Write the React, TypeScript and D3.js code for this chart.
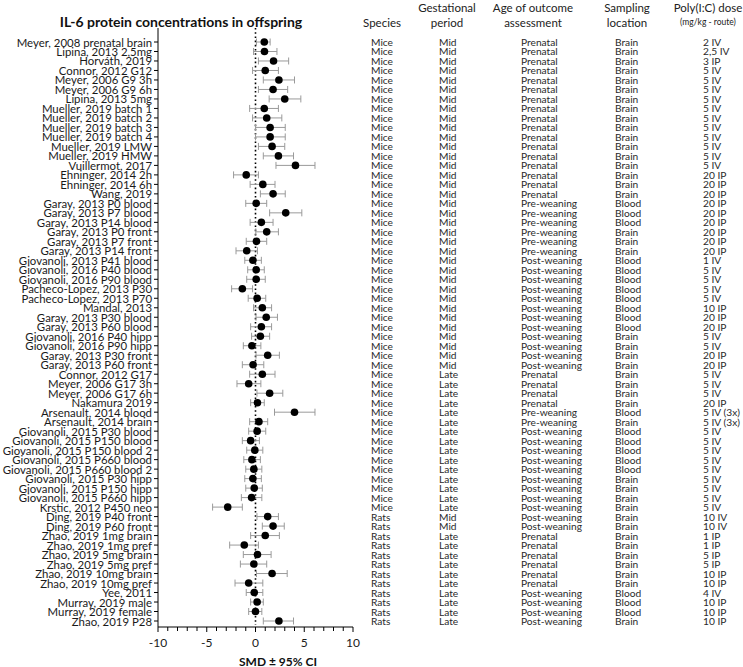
import * as d3 from 'd3';

const studies = [
  'Meyer, 2008 prenatal brain', 'Lipina, 2013 2,5mg', 'Horváth, 2019', 'Connor, 2012 G12',
  'Meyer, 2006 G9 3h', 'Meyer, 2006 G9 6h', 'Lipina, 2013 5mg', 'Mueller, 2019 batch 1',
  'Mueller, 2019 batch 2', 'Mueller, 2019 batch 3', 'Mueller, 2019 batch 4', 'Mueller, 2019 LMW',
  'Mueller, 2019 HMW', 'Vuillermot, 2017', 'Ehninger, 2014 2h', 'Ehninger, 2014 6h',
  'Wang, 2019', 'Garay, 2013 P0 blood', 'Garay, 2013 P7 blood', 'Garay, 2013 P14 blood',
  'Garay, 2013 P0 front', 'Garay, 2013 P7 front', 'Garay, 2013 P14 front', 'Giovanoli, 2013 P41 blood',
  'Giovanoli, 2016 P40 blood', 'Giovanoli, 2016 P90 blood', 'Pacheco-Lopez, 2013 P30', 'Pacheco-Lopez, 2013 P70',
  'Mandal, 2013', 'Garay, 2013 P30 blood', 'Garay, 2013 P60 blood', 'Giovanoli, 2016 P40 hipp',
  'Giovanoli, 2016 P90 hipp', 'Garay, 2013 P30 front', 'Garay, 2013 P60 front', 'Connor, 2012 G17',
  'Meyer, 2006 G17 3h', 'Meyer, 2006 G17 6h', 'Nakamura 2019', 'Arsenault, 2014 blood',
  'Arsenault, 2014 brain', 'Giovanoli, 2015 P30 blood', 'Giovanoli, 2015 P150 blood', 'Giovanoli, 2015 P150 blood 2',
  'Giovanoli, 2015 P660 blood', 'Giovanoli, 2015 P660 blood 2', 'Giovanoli, 2015 P30 hipp', 'Giovanoli, 2015 P150 hipp',
  'Giovanoli, 2015 P660 hipp', 'Krstic, 2012 P450 neo', 'Ding, 2019 P40 front', 'Ding, 2019 P60 front',
  'Zhao, 2019 1mg brain', 'Zhao, 2019 1mg pref', 'Zhao, 2019 5mg brain', 'Zhao, 2019 5mg pref',
  'Zhao, 2019 10mg brain', 'Zhao, 2019 10mg pref', 'Yee, 2011', 'Murray, 2019 male',
  'Murray, 2019 female', 'Zhao, 2019 P28',
];

const smd = [
  0.9, 0.92, 1.85, 1.0, 2.4, 1.8, 3.0, 0.9, 1.15, 1.5, 1.5, 1.7, 2.35, 4.1,
  -0.95, 0.75, 1.8, 0.07, 3.1, 0.6, 1.15, 0.1, -0.9, -0.27, 0.07, 0.07, -1.35, 0.17,
  0.7, 1.1, 0.6, 0.5, -0.37, 1.25, -0.25, 0.7, -0.7, 1.45, 0.2, 4.0, 0.35, 0.17,
  -0.5, -0.07, -0.37, -0.17, -0.27, -0.13, -0.4, -2.85, 1.25, 1.8, 1.0, -1.15, 0.2, -0.17,
  1.7, -0.7, -0.13, 0.17, 0.0, 2.4,
];

const ciLow = [
  0.1, -0.2, 0.3, -0.3, 0.8, 0.3, 1.4, -0.6, -0.3, 0.0, 0.0, 0.3, 0.8, 2.1,
  -2.25, -0.55, 0.5, -1.0, 1.45, -0.55, 0.03, -0.95, -2.0, -1.1, -0.8, -0.9, -2.45, -0.75,
  -0.2, 0.05, -0.5, -0.4, -1.25, 0.05, -1.35, -0.6, -1.9, 0.15, -0.5, 1.95, -0.6, -0.7,
  -1.35, -0.9, -1.2, -1.0, -1.1, -1.0, -1.45, -4.4, 0.15, 0.7, -0.5, -2.65, -1.25, -1.55,
  0.1, -2.1, -0.95, -0.5, -0.7, 0.8,
];

const ciHigh = [
  1.5, 2.2, 3.4, 2.35, 4.0, 3.3, 4.65, 2.35, 2.7, 3.05, 3.05, 3.0, 3.9, 6.1,
  0.3, 2.0, 3.05, 1.15, 4.75, 1.8, 2.35, 1.15, 0.2, 0.6, 0.9, 1.0, -0.3, 1.05,
  1.65, 2.25, 1.65, 1.45, 0.55, 2.45, 0.85, 2.0, 0.55, 2.8, 0.9, 6.1, 1.25, 1.05,
  0.4, 0.75, 0.5, 0.65, 0.6, 0.7, 0.65, -1.35, 2.35, 2.95, 2.45, 0.3, 1.6, 1.15,
  3.25, 0.75, 0.75, 0.8, 0.65, 3.9,
];

const species = [
  'Mice', 'Mice', 'Mice', 'Mice', 'Mice', 'Mice', 'Mice', 'Mice', 'Mice', 'Mice',
  'Mice', 'Mice', 'Mice', 'Mice', 'Mice', 'Mice', 'Mice', 'Mice', 'Mice', 'Mice',
  'Mice', 'Mice', 'Mice', 'Mice', 'Mice', 'Mice', 'Mice', 'Mice', 'Mice', 'Mice',
  'Mice', 'Mice', 'Mice', 'Mice', 'Mice', 'Mice', 'Mice', 'Mice', 'Mice', 'Mice',
  'Mice', 'Mice', 'Mice', 'Mice', 'Mice', 'Mice', 'Mice', 'Mice', 'Mice', 'Mice',
  'Rats', 'Rats', 'Rats', 'Rats', 'Rats', 'Rats', 'Rats', 'Rats', 'Rats', 'Rats',
  'Rats', 'Rats',
];

const period = [
  'Mid', 'Mid', 'Mid', 'Mid', 'Mid', 'Mid', 'Mid', 'Mid', 'Mid', 'Mid',
  'Mid', 'Mid', 'Mid', 'Mid', 'Mid', 'Mid', 'Mid', 'Mid', 'Mid', 'Mid',
  'Mid', 'Mid', 'Mid', 'Mid', 'Mid', 'Mid', 'Mid', 'Mid', 'Mid', 'Mid',
  'Mid', 'Mid', 'Mid', 'Mid', 'Mid', 'Late', 'Late', 'Late', 'Late', 'Late',
  'Late', 'Late', 'Late', 'Late', 'Late', 'Late', 'Late', 'Late', 'Late', 'Late',
  'Mid', 'Mid', 'Late', 'Late', 'Late', 'Late', 'Late', 'Late', 'Late', 'Late',
  'Late', 'Late',
];

const age = [
  'Prenatal', 'Prenatal', 'Prenatal', 'Prenatal', 'Prenatal', 'Prenatal', 'Prenatal', 'Prenatal',
  'Prenatal', 'Prenatal', 'Prenatal', 'Prenatal', 'Prenatal', 'Prenatal', 'Prenatal', 'Prenatal',
  'Prenatal', 'Pre-weaning', 'Pre-weaning', 'Pre-weaning', 'Pre-weaning', 'Pre-weaning', 'Pre-weaning',
  'Post-weaning', 'Post-weaning', 'Post-weaning', 'Post-weaning', 'Post-weaning', 'Post-weaning',
  'Post-weaning', 'Post-weaning', 'Post-weaning', 'Post-weaning', 'Post-weaning', 'Post-weaning',
  'Prenatal', 'Prenatal', 'Prenatal', 'Prenatal', 'Pre-weaning', 'Pre-weaning',
  'Post-weaning', 'Post-weaning', 'Post-weaning', 'Post-weaning', 'Post-weaning', 'Post-weaning',
  'Post-weaning', 'Post-weaning', 'Post-weaning', 'Post-weaning', 'Post-weaning',
  'Prenatal', 'Prenatal', 'Prenatal', 'Prenatal', 'Prenatal', 'Prenatal',
  'Post-weaning', 'Post-weaning', 'Post-weaning', 'Post-weaning',
];

const location = [
  'Brain', 'Brain', 'Brain', 'Brain', 'Brain', 'Brain', 'Brain', 'Brain', 'Brain', 'Brain',
  'Brain', 'Brain', 'Brain', 'Brain', 'Brain', 'Brain', 'Brain', 'Blood', 'Blood', 'Blood',
  'Brain', 'Brain', 'Brain', 'Blood', 'Blood', 'Blood', 'Blood', 'Blood', 'Blood', 'Blood',
  'Blood', 'Brain', 'Brain', 'Brain', 'Brain', 'Brain', 'Brain', 'Brain', 'Brain', 'Blood',
  'Brain', 'Blood', 'Blood', 'Blood', 'Blood', 'Blood', 'Brain', 'Brain', 'Brain', 'Brain',
  'Brain', 'Brain', 'Brain', 'Brain', 'Brain', 'Brain', 'Brain', 'Brain', 'Blood', 'Blood',
  'Blood', 'Brain',
];

const dose = [
  '2 IV', '2,5 IV', '3 IP', '5 IV', '5 IV', '5 IV', '5 IV', '5 IV', '5 IV', '5 IV',
  '5 IV', '5 IV', '5 IV', '5 IV', '20 IP', '20 IP', '20 IP', '20 IP', '20 IP', '20 IP',
  '20 IP', '20 IP', '20 IP', '1 IV', '5 IV', '5 IV', '5 IV', '5 IV', '10 IP', '20 IP',
  '20 IP', '5 IV', '5 IV', '20 IP', '20 IP', '5 IV', '5 IV', '5 IV', '20 IP', '5 IV (3x)',
  '5 IV (3x)', '5 IV', '5 IV', '5 IV', '5 IV', '5 IV', '5 IV', '5 IV', '5 IV', '5 IV',
  '10 IV', '10 IV', '1 IP', '1 IP', '5 IP', '5 IP', '10 IP', '10 IP', '4 IV', '10 IP',
  '10 IP', '10 IP',
];

const xTicks = d3.range(-10, 11, 1);
const xLabels = [-10, -5, 0, 5, 10];

const FONT = 'Lato, "Noto Sans", sans-serif';

export default function App() {
  const W = 743;
  const H = 667;
  const plotLeft = 158;
  const plotRight = 353;
  const plotTop = 28;
  const axisY = 627;

  const x = d3.scaleLinear().domain([-10, 10]).range([plotLeft, plotRight]);
  const y = d3.scalePoint<string>().domain(studies).range([42, 621]);

  // table columns: body left-aligned, headers centered
  const columns = [
    { values: species, x: 371, head: ['', 'Species'], hx: 382 },
    { values: period, x: 439, head: ['Gestational', 'period'], hx: 447 },
    { values: age, x: 521, head: ['Age of outcome', 'assessment'], hx: 533 },
    { values: location, x: 615, head: ['Sampling', 'location'], hx: 627 },
    { values: dose, x: 703, head: ['Poly(I:C) dose', ''], hx: 708 },
  ];

  return (
    <div style={{ position: 'absolute', left: 0, top: 0 }}>
      <svg width={W} height={H} style={{ display: 'block', background: '#fff' }} fontFamily={FONT}>
        {/* title */}
        <text x={181} y={21} textAnchor="middle" dominantBaseline="central" fontSize={14} fontWeight="bold" fill="#111">
          IL-6 protein concentrations in offspring
        </text>

        {/* y axis */}
        <line x1={plotLeft} x2={plotLeft} y1={plotTop} y2={axisY} stroke="#000" strokeWidth={1} />
        {studies.map((s) => (
          <g key={s}>
            <line x1={plotLeft - 4} x2={plotLeft} y1={y(s)} y2={y(s)} stroke="#000" strokeWidth={1} />
            <text x={plotLeft - 6} y={y(s)} textAnchor="end" dominantBaseline="central" fontSize={11.4} fill="#1a1a1a">
              {s}
            </text>
          </g>
        ))}

        {/* zero reference */}
        <line x1={x(0)} x2={x(0)} y1={plotTop} y2={axisY - 2} stroke="#000" strokeWidth={1.6} strokeDasharray="1.6,2.6" />

        {/* x axis */}
        <line x1={plotLeft} x2={plotRight} y1={axisY} y2={axisY} stroke="#000" strokeWidth={1} />
        {xTicks.map((t) => (
          <line key={t} x1={x(t)} x2={x(t)} y1={axisY} y2={axisY + (t % 5 === 0 ? 5 : 4)} stroke="#000" strokeWidth={1} />
        ))}
        {xLabels.map((t) => (
          <text key={t} x={x(t)} y={642} textAnchor="middle" dominantBaseline="central" fontSize={12} fill="#1a1a1a">
            {t}
          </text>
        ))}
        <text x={278} y={661} textAnchor="middle" dominantBaseline="central" fontSize={12} fontWeight="bold" fill="#111">
          SMD ± 95% CI
        </text>

        {/* CI bars and points */}
        {studies.map((s, i) => (
          <g key={`ci-${s}`}>
            <line x1={x(ciLow[i])} x2={x(ciHigh[i])} y1={y(s)} y2={y(s)} stroke="#9a9a9a" strokeWidth={1} />
            <line x1={x(ciLow[i])} x2={x(ciLow[i])} y1={y(s)! - 3.5} y2={y(s)! + 3.5} stroke="#9a9a9a" strokeWidth={1} />
            <line x1={x(ciHigh[i])} x2={x(ciHigh[i])} y1={y(s)! - 3.5} y2={y(s)! + 3.5} stroke="#9a9a9a" strokeWidth={1} />
            <circle cx={x(smd[i])} cy={y(s)} r={3.8} fill="#000" />
          </g>
        ))}

        {/* table headers */}
        {columns.map((c) => (
          <g key={c.hx}>
            {c.head[0] && (
              <text x={c.hx} y={7} textAnchor="middle" dominantBaseline="central" fontSize={11.5} fill="#222">
                {c.head[0]}
              </text>
            )}
            {c.head[1] && (
              <text x={c.hx} y={22} textAnchor="middle" dominantBaseline="central" fontSize={11.5} fill="#222">
                {c.head[1]}
              </text>
            )}
          </g>
        ))}
        <text x={708} y={22} textAnchor="middle" dominantBaseline="central" fontSize={8.5} fill="#222">
          (mg/kg - route)
        </text>

        {/* table body */}
        {columns.map((c) =>
          c.values.map((v, i) => (
            <text
              key={`${c.x}-${i}`}
              x={c.x}
              y={y(studies[i])}
              dominantBaseline="central"
              fontSize={10.2}
              fill="#2a2a2a"
            >
              {v}
            </text>
          ))
        )}
      </svg>
    </div>
  );
}
